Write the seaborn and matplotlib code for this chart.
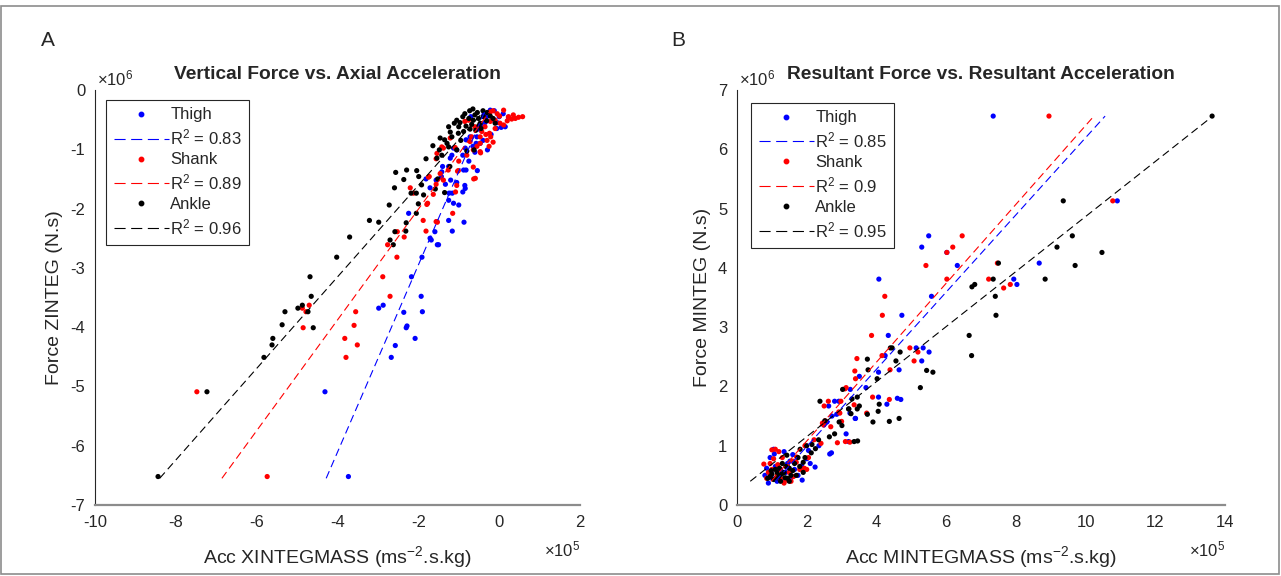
import numpy as np
import pandas as pd
import matplotlib
matplotlib.use('agg')
import matplotlib.pyplot as plt
import seaborn as sns
from matplotlib.lines import Line2D
from matplotlib.patches import Rectangle

# values are in units of 1e5 (acc) and 1e6 (force)
segments = ['Thigh', 'Shank', 'Ankle']
colours = {'Thigh': 'blue', 'Shank': 'red', 'Ankle': 'black'}

# ---- panel A: vertical force vs axial acceleration ----
a_thigh = [(-3.73, -6.52), (-4.31, -5.09), (-2.67, -4.51), (-2.57, -4.31), (-2.08, -4.19), (-2.28, -3.98),
           (-2.30, -4.01), (-2.36, -3.75), (-1.90, -3.74), (-2.98, -3.68), (-2.87, -3.63), (-1.93, -3.48),
           (-2.17, -3.15), (-1.91, -2.82), (-1.53, -2.61), (-1.50, -2.61), (-1.71, -2.50), (-1.68, -2.53),
           (-1.59, -2.39), (-1.16, -2.38), (-1.25, -2.20), (-0.87, -2.23), (-1.54, -2.22), (-2.24, -2.08),
           (-1.13, -1.91), (-1.00, -1.94), (-1.25, -1.86), (-1.24, -1.74), (-1.16, -1.74), (-0.90, -1.72),
           (-0.85, -1.61), (-0.84, -1.66), (-1.05, -1.56), (-1.33, -1.59), (-1.20, -1.52), (-1.43, -1.46),
           (-1.81, -1.50), (-1.71, -1.65), (-1.56, -1.52), (-1.40, -1.29), (-0.82, -1.35), (-0.54, -1.36),
           (-0.88, -1.35), (-1.42, -1.38), (-1.25, -1.29), (-1.21, -1.15), (-1.17, -1.10), (-1.13, -0.98),
           (-1.05, -1.01), (-0.84, -0.98), (-0.29, -1.01), (-0.47, -0.90), (-0.55, -0.79), (-0.57, -0.90),
           (-0.47, -0.67), (-0.70, -0.45), (-0.31, -0.45), (-0.38, -0.42), (-0.22, -0.34), (-0.12, -0.35),
           (0.23, -0.46), (0.15, -0.62), (0.05, -0.63), (-0.06, -0.65), (-0.72, -0.79), (-0.82, -0.84),
           (-0.65, -0.95), (-0.35, -0.55), (-0.15, -0.50), (0.00, -0.45), (-0.45, -0.60), (-0.20, -0.75),
           (-0.40, -0.85), (-0.90, -1.10), (-0.75, -1.20), (-0.60, -1.05), (0.10, -0.40), (-0.05, -0.55)]
a_shank = [(-5.74, -6.52), (-7.48, -5.09), (-3.79, -4.51), (-3.51, -4.30), (-3.82, -4.19), (-4.85, -4.01),
           (-3.59, -3.97), (-4.78, -3.74), (-3.55, -3.74), (-4.87, -3.68), (-4.70, -3.63), (-2.70, -3.48),
           (-2.88, -3.15), (-2.53, -2.82), (-2.76, -2.61), (-2.35, -2.48), (-2.52, -2.39), (-1.81, -2.38),
           (-1.53, -2.23), (-1.88, -2.20), (-1.56, -2.22), (-1.15, -2.08), (-1.79, -1.93), (-1.77, -1.91),
           (-1.63, -1.76), (-2.12, -1.74), (-2.20, -1.65), (-1.73, -1.46), (-1.56, -1.59), (-1.46, -1.41),
           (-1.26, -1.35), (-1.03, -1.37), (-1.05, -1.61), (-1.08, -1.72), (-0.64, -1.30), (-0.63, -1.50),
           (-0.59, -1.49), (-1.01, -1.36), (-1.38, -1.52), (-1.75, -1.47), (-1.54, -1.07), (-1.56, -1.16),
           (-1.42, -0.96), (-1.38, -0.98), (-1.09, -0.97), (-1.21, -0.81), (-0.64, -1.01), (-0.46, -1.06),
           (-0.47, -1.04), (-0.47, -0.90), (-0.72, -0.87), (-0.68, -0.79), (-0.47, -0.79), (-0.43, -0.70),
           (-0.24, -0.73), (-0.21, -0.79), (-0.35, -0.62), (-0.22, -0.53), (0.02, -0.56), (0.11, -0.59),
           (-0.10, -0.51), (0.01, -0.44), (-0.22, -0.37), (-0.15, -0.35), (0.11, -0.34), (0.23, -0.45),
           (0.31, -0.49), (0.40, -0.48), (0.48, -0.46), (0.58, -0.45), (-0.76, -0.51), (-0.85, -0.53),
           (-0.30, -0.85), (-0.55, -0.95), (-0.80, -1.10), (-1.00, -1.20), (-0.25, -0.95), (-0.10, -0.65),
           (0.20, -0.52), (-0.60, -0.62), (-0.05, -0.40), (0.35, -0.42), (-0.33, -0.75), (-0.15, -0.88)]
a_ankle = [(-8.44, -6.52), (-7.23, -5.09), (-5.82, -4.51), (-5.62, -4.30), (-5.60, -4.19), (-5.37, -3.96),
           (-4.60, -4.01), (-5.30, -3.74), (-4.73, -3.74), (-4.98, -3.68), (-4.87, -3.63), (-4.65, -3.48),
           (-4.68, -3.15), (-4.02, -2.82), (-3.70, -2.48), (-2.70, -2.53), (-2.62, -2.61), (-2.58, -2.39),
           (-2.31, -2.38), (-3.21, -2.20), (-2.98, -2.23), (-2.30, -2.24), (-2.05, -2.08), (-2.72, -1.94),
           (-2.00, -1.92), (-2.59, -1.65), (-2.18, -1.74), (-2.05, -1.74), (-1.87, -1.77), (-1.92, -1.60),
           (-2.36, -1.51), (-1.99, -1.46), (-2.56, -1.39), (-2.29, -1.35), (-2.04, -1.36), (-1.35, -1.73),
           (-1.22, -1.29), (-1.58, -1.67), (-1.52, -1.50), (-1.81, -1.16), (-1.54, -1.15), (-1.42, -1.10),
           (-1.48, -1.01), (-1.05, -1.01), (-0.80, -1.03), (-0.62, -1.01), (-1.64, -0.94), (-1.25, -0.96),
           (-1.29, -0.90), (-1.35, -0.84), (-1.46, -0.81), (-1.17, -0.79), (-1.21, -0.71), (-1.01, -0.73),
           (-0.88, -0.70), (-0.72, -0.66), (-0.47, -0.56), (-0.10, -0.56), (-0.22, -0.44), (-0.31, -0.52),
           (-0.39, -0.45), (-0.51, -0.48), (-0.64, -0.51), (-0.54, -0.38), (-0.73, -0.35), (-0.82, -0.61),
           (-0.97, -0.55), (-1.05, -0.51), (-1.11, -0.56), (-0.60, -0.42), (-0.68, -0.58), (-0.90, -0.45),
           (-0.45, -0.65), (-0.30, -0.38), (-0.85, -0.40), (-0.58, -0.68), (-1.25, -0.62), (-0.95, -0.85),
           (-0.40, -0.35), (-0.65, -0.32), (-0.15, -0.48), (-0.75, -0.48), (-0.50, -0.60), (-1.00, -0.62)]
a_fit_thigh = [(-4.28, -6.55), (-0.35, -0.35)]
a_fit_shank = [(-6.86, -6.55), (-0.20, -0.33)]
a_fit_ankle = [(-8.40, -6.55), (-0.37, -0.35)]
a_r2 = [0.83, 0.89, 0.96]

# ---- panel B: resultant force vs resultant acceleration ----
b_thigh = [(7.35, 6.56), (10.91, 5.13), (8.67, 4.08), (5.50, 4.54), (5.30, 4.35), (6.02, 4.26), (6.32, 4.04),
           (4.07, 3.81), (7.94, 3.81), (8.03, 3.72), (5.58, 3.52), (4.73, 3.20), (4.34, 2.86), (5.14, 2.65),
           (5.34, 2.65), (5.51, 2.58), (5.30, 2.43), (4.25, 2.52), (4.06, 2.24), (4.65, 2.28), (3.51, 2.17),
           (3.70, 1.98), (3.25, 1.95), (2.92, 1.75), (4.06, 1.82), (4.60, 1.80), (4.70, 1.78), (4.30, 1.70),
           (3.24, 1.55), (3.40, 1.46), (2.53, 1.41), (2.49, 1.35), (2.63, 1.67), (2.80, 1.75), (3.39, 1.46),
           (2.86, 1.53), (2.72, 1.50), (2.58, 1.40), (3.13, 1.20), (3.20, 1.07), (2.71, 0.88), (2.66, 0.86),
           (2.24, 0.64), (2.35, 1.00), (2.05, 0.92), (0.90, 0.37), (1.87, 0.42), (1.05, 0.94), (1.07, 0.86),
           (0.85, 0.62), (1.52, 0.74), (1.20, 0.50), (1.40, 0.55), (1.00, 0.45), (1.65, 0.60), (1.30, 0.42),
           (0.95, 0.80), (1.60, 0.85), (1.75, 0.50), (1.10, 0.65), (1.45, 0.70), (2.00, 0.78), (1.25, 0.60),
           (0.80, 0.50), (1.55, 0.46), (1.85, 0.66), (1.15, 0.40), (2.10, 0.70), (1.35, 0.90), (0.98, 0.55)]
b_shank = [(8.95, 6.56), (10.78, 5.13), (7.47, 4.08), (6.46, 4.54), (6.19, 4.35), (6.02, 4.26), (5.42, 4.04),
           (6.02, 3.81), (7.22, 3.81), (7.84, 3.72), (7.65, 3.66), (4.24, 3.52), (4.17, 3.20), (3.86, 2.86),
           (4.96, 2.65), (5.19, 2.58), (5.08, 2.43), (4.16, 2.52), (3.44, 2.47), (3.38, 2.26), (3.40, 2.13),
           (4.39, 2.28), (3.10, 1.96), (3.13, 1.98), (3.89, 1.82), (4.37, 1.78), (2.92, 1.57), (3.00, 1.41),
           (2.49, 1.35), (2.50, 1.67), (2.62, 1.75), (2.98, 1.75), (3.36, 1.69), (3.72, 1.55), (2.95, 1.55),
           (2.69, 1.32), (2.53, 1.42), (2.88, 1.05), (3.11, 1.07), (3.24, 1.06), (2.41, 1.04), (2.21, 1.10),
           (1.95, 1.00), (1.71, 0.81), (1.93, 0.62), (2.00, 0.60), (2.45, 1.38), (1.10, 0.94), (1.00, 0.93),
           (1.05, 0.78), (0.77, 0.69), (1.17, 0.68), (1.35, 0.37), (1.60, 0.74), (1.70, 0.72), (0.90, 0.55),
           (1.25, 0.45), (1.50, 0.55), (1.45, 0.65), (1.15, 0.50), (0.85, 0.45), (1.80, 0.60), (1.30, 0.80),
           (1.62, 0.48), (1.00, 0.60), (1.40, 0.42), (2.05, 0.80), (0.95, 0.70), (1.20, 0.90), (1.55, 0.40)]
b_ankle = [(13.63, 6.56), (9.36, 5.13), (9.62, 4.54), (9.18, 4.35), (10.47, 4.26), (9.70, 4.04), (7.50, 4.08),
           (7.35, 3.81), (8.84, 3.81), (6.74, 3.68), (6.82, 3.72), (7.41, 3.52), (7.43, 3.20), (6.66, 2.86),
           (6.73, 2.52), (4.40, 2.65), (4.45, 2.65), (4.56, 2.43), (4.68, 2.58), (3.74, 2.46), (3.76, 2.28),
           (5.44, 2.27), (5.62, 2.24), (4.02, 2.13), (5.26, 1.98), (3.03, 1.95), (3.30, 1.79), (3.45, 1.82),
           (4.08, 1.70), (3.51, 1.67), (3.20, 1.62), (3.27, 1.54), (3.74, 1.53), (4.05, 1.58), (3.90, 1.40),
           (4.37, 1.41), (4.65, 1.46), (3.01, 1.34), (2.38, 1.75), (3.21, 1.62), (3.45, 1.62), (2.52, 1.42),
           (2.93, 1.40), (2.80, 1.20), (2.65, 1.15), (3.36, 1.07), (3.46, 1.08), (2.34, 1.10), (2.00, 1.00),
           (2.13, 0.88), (1.81, 0.94), (1.90, 0.55), (2.15, 1.02), (2.25, 0.95), (1.95, 0.80), (1.43, 0.84),
           (1.30, 0.70), (1.50, 0.62), (1.00, 0.52), (1.20, 0.48), (1.10, 0.60), (1.35, 0.55), (1.60, 0.58),
           (1.25, 0.40), (1.45, 0.45), (0.95, 0.48), (1.15, 0.55), (1.70, 0.50), (1.05, 0.43), (1.55, 0.50),
           (1.40, 0.65), (1.80, 0.65), (1.22, 0.62), (0.88, 0.45), (1.65, 0.70), (1.75, 0.80), (1.28, 0.52),
           (1.50, 0.40), (1.12, 0.45), (0.98, 0.58), (1.90, 0.72), (1.38, 0.46)]
b_fit_thigh = [(1.10, 0.40), (10.56, 6.56)]
b_fit_shank = [(0.98, 0.40), (10.24, 6.56)]
b_fit_ankle = [(0.38, 0.40), (13.65, 6.56)]
b_r2 = [0.85, 0.9, 0.95]


def to_frame(series):
    rows = []
    for seg, pts in zip(segments, series):
        for x, y in pts:
            rows.append((seg, x, y))
    return pd.DataFrame(rows, columns=['segment', 'x', 'y'])


def draw_panel(ax, pts, fits, r2, title, ylabel, xlabel, xlim, ylim, anchor):
    df = to_frame(pts)
    sns.scatterplot(data=df, x='x', y='y', hue='segment', palette=colours, s=14,
                    linewidth=0, legend=False, ax=ax, zorder=2)
    handles = []
    for seg, fit, r in zip(segments, fits, r2):
        fx, fy = zip(*fit)
        ax.plot(fx, fy, color=colours[seg], lw=0.8, dashes=(7, 4), zorder=3)
        handles.append(Line2D([], [], ls='none', marker='o', ms=3.2, color=colours[seg], label=seg))
        handles.append(Line2D([], [], color=colours[seg], lw=0.8, dashes=(10, 5),
                              label=r'R$^2$ = %s' % r))
    leg = ax.legend(handles=handles, loc='upper left', bbox_to_anchor=anchor, borderaxespad=0,
                    fontsize=12, handlelength=3.3, handletextpad=0.1, labelspacing=0.3,
                    fancybox=False, edgecolor='#262626', framealpha=1, borderpad=0.45)
    leg.get_frame().set_linewidth(0.8)

    ax.set_xlim(*xlim)
    ax.set_ylim(*ylim)
    ax.set_title(title, fontsize=13.8, fontweight='bold', pad=8)
    ax.set_xlabel(xlabel, fontsize=14, color='#262626', labelpad=10)
    ax.set_ylabel(ylabel, fontsize=14, color='#262626', labelpad=5)
    ax.tick_params(direction='in', length=5, width=0.8, labelsize=12, colors='#262626',
                   top=False, right=False, pad=7)
    sns.despine(ax=ax)
    ax.spines['left'].set_color('#262626')
    ax.spines['left'].set_linewidth(0.8)
    ax.spines['bottom'].set_color('#8c8c8c')
    ax.spines['bottom'].set_linewidth(1.6)
    ax.text(0.004, 1.005, r'$\times$10$^6$', transform=ax.transAxes, ha='left', va='bottom',
            fontsize=12, color='#262626')
    ax.text(1.0, -0.108, r'$\times$10$^5$', transform=ax.transAxes, ha='right', va='center',
            fontsize=12, color='#262626')


sns.set_style('white')
plt.rcParams['font.family'] = ['Liberation Sans', 'DejaVu Sans']
plt.rcParams['mathtext.fontset'] = 'custom'
plt.rcParams['mathtext.rm'] = 'Liberation Sans'
plt.rcParams['mathtext.it'] = 'Liberation Sans:italic'
plt.rcParams['mathtext.bf'] = 'Liberation Sans:bold'
plt.rcParams['axes.unicode_minus'] = False

fig = plt.figure(figsize=(12.81, 5.76), dpi=100)
ax_a = fig.add_axes([95 / 1281, 1 - 505 / 576, 485 / 1281, 415 / 576])
ax_b = fig.add_axes([737 / 1281, 1 - 505 / 576, 488 / 1281, 415 / 576])

draw_panel(ax_a, [a_thigh, a_shank, a_ankle], [a_fit_thigh, a_fit_shank, a_fit_ankle], a_r2,
           'Vertical Force vs. Axial Acceleration', 'Force ZINTEG (N.s)',
           r'Acc XINTEGMASS (ms$^{-2}$.s.kg)', (-10, 2), (-7, 0), (0.023, 0.976))
ax_a.set_xticks(range(-10, 3, 2))
ax_a.set_yticks(range(-7, 1))

draw_panel(ax_b, [b_thigh, b_shank, b_ankle], [b_fit_thigh, b_fit_shank, b_fit_ankle], b_r2,
           'Resultant Force vs. Resultant Acceleration', 'Force MINTEG (N.s)',
           r'Acc MINTEGMASS (ms$^{-2}$.s.kg)', (0, 14), (0, 7), (0.029, 0.969))
ax_b.set_xticks(range(0, 15, 2))
ax_b.set_yticks(range(0, 8))

fig.text(48 / 1281, 1 - 40 / 576, 'A', fontsize=15, ha='center', va='center')
fig.text(678 / 1281, 1 - 40 / 576, 'B', fontsize=15, ha='center', va='center')
fig.add_artist(Rectangle((1 / 1281, 2 / 576), 1278 / 1281, 568 / 576, transform=fig.transFigure,
                         fill=False, edgecolor='#8c8c8c', lw=1.2))

fig.savefig('out.png', dpi=100)
